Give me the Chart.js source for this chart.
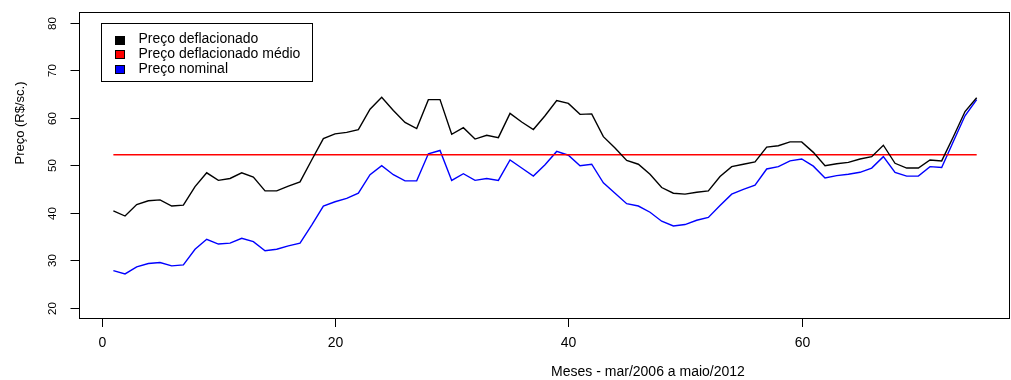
<!DOCTYPE html>
<html>
<head>
<meta charset="utf-8">
<script src="https://cdn.jsdelivr.net/npm/chart.js@4"></script>
<style>
  body { margin: 0; background: #fff; }
  #wrap { width: 1011px; height: 380px; }
</style>
</head>
<body>
<div id="wrap"><canvas id="myChart" width="1011" height="380"></canvas></div>
<script>
// meses de mar/2006 a maio/2012
const meses = [1,2,3,4,5,6,7,8,9,10,11,12,13,14,15,16,17,18,19,20,21,22,23,24,25,
  26,27,28,29,30,31,32,33,34,35,36,37,38,39,40,41,42,43,44,45,46,47,48,49,50,
  51,52,53,54,55,56,57,58,59,60,61,62,63,64,65,66,67,68,69,70,71,72,73,74,75];

const precoDeflacionado = [40.4,39.3,41.7,42.5,42.7,41.4,41.6,45.5,48.4,46.8,47.2,48.4,47.5,44.6,44.6,
  45.6,46.5,51.1,55.6,56.6,56.9,57.5,61.8,64.3,61.5,59.0,57.7,63.8,63.8,56.5,
  57.9,55.5,56.3,55.8,60.9,59.1,57.5,60.4,63.6,63.0,60.7,60.8,56.0,53.6,51.0,
  50.2,48.1,45.3,44.1,43.9,44.3,44.6,47.6,49.7,50.2,50.7,53.8,54.1,54.9,54.9,
  52.7,49.9,50.3,50.6,51.3,51.8,54.2,50.4,49.4,49.4,51.1,50.9,56.0,61.3,64.2];

const precoNominal = [27.8,27.1,28.6,29.3,29.5,28.8,29.0,32.3,34.4,33.4,33.6,34.6,33.9,32.0,32.3,
  33.0,33.6,37.4,41.4,42.3,43.0,44.1,48.0,49.9,48.0,46.7,46.7,52.4,53.1,46.8,
  48.2,46.8,47.2,46.8,51.1,49.4,47.7,50.1,52.9,52.1,49.9,50.2,46.3,44.1,41.9,
  41.4,40.1,38.2,37.2,37.5,38.4,39.0,41.5,43.9,44.9,45.8,49.2,49.7,50.9,51.3,
  49.8,47.3,47.8,48.1,48.5,49.4,51.8,48.5,47.7,47.7,49.7,49.5,55.0,60.4,63.8];

const precoMedio = 52.2;

const xTicks = [0, 20, 40, 60];
const yTicks = [20, 30, 40, 50, 60, 70, 80];

const legendLabels = ['Preço deflacionado', 'Preço deflacionado médio', 'Preço nominal'];
const cores = ['#000000', '#ff0000', '#0000ff'];

function pts(ys) {
  return ys.map((y, i) => ({ x: meses[i], y: y }));
}

// desenha caixa, eixos no estilo R e legenda
const rAxes = {
  id: 'rAxes',
  afterDraw(chart) {
    const ctx = chart.ctx;
    const a = chart.chartArea;
    const xs = chart.scales.x;
    const ys = chart.scales.y;
    ctx.save();
    ctx.strokeStyle = '#000';
    ctx.lineWidth = 1;
    ctx.strokeRect(Math.round(a.left) + 0.5, Math.round(a.top) + 0.5,
      Math.round(a.right - a.left), Math.round(a.bottom - a.top));

    ctx.fillStyle = '#000';
    // eixo x
    const yb = Math.round(a.bottom) + 0.5;
    ctx.beginPath();
    ctx.moveTo(xs.getPixelForValue(xTicks[0]), yb);
    ctx.lineTo(xs.getPixelForValue(xTicks[xTicks.length - 1]), yb);
    ctx.stroke();
    ctx.font = '14px "Liberation Sans"';
    ctx.textAlign = 'center';
    ctx.textBaseline = 'middle';
    xTicks.forEach(v => {
      const px = Math.round(xs.getPixelForValue(v)) + 0.5;
      ctx.beginPath();
      ctx.moveTo(px, yb);
      ctx.lineTo(px, yb + 8.5);
      ctx.stroke();
      ctx.fillText(String(v), px, 343.5);
    });
    ctx.fillText('Meses - mar/2006 a maio/2012', 648, 372);

    // eixo y
    const xl = Math.round(a.left) + 0.5;
    ctx.font = '11.5px "Liberation Sans"';
    yTicks.forEach(v => {
      const py = Math.round(ys.getPixelForValue(v)) + 0.5;
      ctx.beginPath();
      ctx.moveTo(xl, py);
      ctx.lineTo(xl - 9, py);
      ctx.stroke();
      ctx.save();
      ctx.translate(53, py);
      ctx.rotate(-Math.PI / 2);
      ctx.fillText(String(v), 0, 0);
      ctx.restore();
    });
    ctx.save();
    ctx.font = '13px "Liberation Sans"';
    ctx.translate(20, 123);
    ctx.rotate(-Math.PI / 2);
    ctx.fillText('Preço (R$/sc.)', 0, 0);
    ctx.restore();

    // legenda
    ctx.fillStyle = '#fff';
    ctx.fillRect(101.5, 23.5, 211, 58);
    ctx.strokeRect(101.5, 23.5, 211, 58);
    ctx.font = '14px "Liberation Sans"';
    ctx.textAlign = 'left';
    legendLabels.forEach((t, i) => {
      const cy = 39.5 + i * 14.8;
      ctx.fillStyle = cores[i];
      ctx.fillRect(115, Math.round(cy - 4), 10, 9);
      ctx.strokeStyle = '#000';
      ctx.strokeRect(115.5, Math.round(cy - 4) + 0.5, 9, 8);
      ctx.fillStyle = '#000';
      ctx.fillText(t, 138.5, cy);
    });
    ctx.restore();
  }
};

new Chart('myChart', {
  type: 'line',
  data: {
    datasets: [
      {
        label: legendLabels[0],
        data: pts(precoDeflacionado),
        borderColor: cores[0],
        borderWidth: 1.4,
        pointRadius: 0,
        tension: 0
      },
      {
        label: legendLabels[1],
        data: [{ x: meses[0], y: precoMedio }, { x: meses[meses.length - 1], y: precoMedio }],
        borderColor: cores[1],
        borderWidth: 1.4,
        pointRadius: 0
      },
      {
        label: legendLabels[2],
        data: pts(precoNominal),
        borderColor: cores[2],
        borderWidth: 1.4,
        pointRadius: 0,
        tension: 0
      }
    ]
  },
  options: {
    responsive: false,
    animation: false,
    layout: { padding: { left: 79, top: 12, right: 2, bottom: 62 } },
    plugins: { legend: { display: false }, tooltip: { enabled: false } },
    scales: {
      x: { type: 'linear', display: false, min: -1.946, max: 77.77 },
      y: { type: 'linear', display: false, min: 17.83, max: 82.25 }
    }
  },
  plugins: [rAxes]
});
</script>
</body>
</html>
